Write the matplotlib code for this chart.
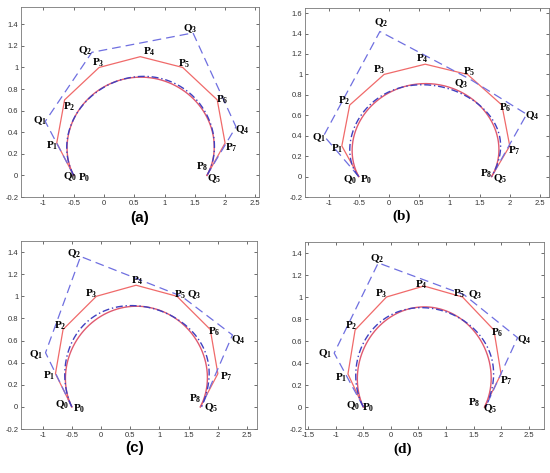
import numpy as np
import matplotlib
matplotlib.use('Agg')
import matplotlib.pyplot as plt
from matplotlib.ticker import FuncFormatter, MultipleLocator
from math import comb

plt.rcParams['mathtext.fontset'] = 'custom'
plt.rcParams['mathtext.rm'] = 'Liberation Serif'
plt.rcParams['mathtext.bf'] = 'Liberation Serif:bold'
plt.rcParams['font.family'] = 'Liberation Sans'

# ---- data: control points ----
P_x = [-0.5, -0.78, -0.65, -0.08, 0.6, 1.3, 1.87, 2.0, 1.7]
P_y = [0.0, 0.3, 0.7, 1.0, 1.1, 1.0, 0.7, 0.3, 0.0]

Qa_x = [-0.5, -0.97, -0.2, 1.47, 2.18, 1.7]
Qa_y = [0.0, 0.50, 1.14, 1.32, 0.45, 0.0]
Qb_x = [-0.5, -1.08, -0.15, 1.35, 2.28, 1.7]
Qb_y = [0.0, 0.40, 1.42, 0.95, 0.61, 0.0]
Qc_x = [-0.5, -0.95, -0.35, 1.38, 2.25, 1.72]
Qc_y = [0.0, 0.49, 1.36, 1.0, 0.65, 0.0]
Qd_x = [-0.5, -1.03, -0.23, 1.33, 2.3, 1.72]
Qd_y = [0.0, 0.49, 1.31, 1.02, 0.63, 0.0]

panel_names = ['(a)', '(b)', '(c)', '(d)']
Q_sets = [(Qa_x, Qa_y), (Qb_x, Qb_y), (Qc_x, Qc_y), (Qd_x, Qd_y)]

# ---- layout (pixels) ----
W, H = 550, 473
rects_px = [(21, 7, 259, 197), (305, 8, 549, 197), (21, 241, 257, 429), (305, 242, 544, 429)]
xlims = [(-1.37, 2.56), (-1.39, 2.65), (-1.37, 2.67), (-1.56, 2.78)]
ylims = [(-0.2, 1.56), (-0.2, 1.65), (-0.2, 1.5), (-0.2, 1.5)]
panel_label_pos = [(140, 218), (402, 216), (135, 448), (403, 449)]
panel_label_font = ['Liberation Sans', 'Liberation Serif', 'Liberation Sans', 'Liberation Serif']

# label offsets in pixels (dx, dy) for P0..P8 and Q0..Q5
P_off = [
    [(11, -2), (-5, -3), (5, -7), (-1, 5), (9, 5), (2, 4), (5, 0), (6, -5), (-5, 9)],
    [(7, -3), (-5, -3), (-5, 4), (-5, 5), (-3, 5), (2, 3), (3, -3), (5, -5), (-5, 3)],
    [(7, -2), (-6, -2), (-3, 4), (-5, 3), (1, 4), (3, 2), (4, -2), (8, -3), (-5, 8)],
    [(5, -1), (-7, -4), (-4, 4), (-5, 3), (-3, 1), (-3, 3), (3, -3), (5, -7), (-10, 4)],
]
Q_off = [
    [(-4, -1), (-5, 1), (-7, 2), (-3, 4), (6, -3), (7, -3)],
    [(-9, -3), (-5, -2), (1, 9), (-9, -4), (6, -1), (9, -2)],
    [(-10, 2), (-9, -2), (-6, 3), (13, 2), (6, -5), (10, -1)],
    [(-10, 1), (-9, -1), (-1, 4), (11, 0), (7, -2), (5, -2)],
]


def bezier(xs, ys, n=300):
    xs = np.asarray(xs, float)
    ys = np.asarray(ys, float)
    d = len(xs) - 1
    t = np.linspace(0, 1, n)
    B = np.array([comb(d, k) * t**k * (1 - t)**(d - k) for k in range(d + 1)])
    return B.T @ xs, B.T @ ys


RED = '#f06a6a'
BLUE = '#6f6fe0'
fig = plt.figure(figsize=(W / 100, H / 100), dpi=100)

for i in range(4):
    l, t, r, b = rects_px[i]
    ax = fig.add_axes([l / W, 1 - b / H, (r - l) / W, (b - t) / H])
    qx, qy = Q_sets[i]
    # control polygons
    ax.plot(P_x, P_y, color=RED, lw=0.9)
    ax.plot(qx, qy, color=BLUE, lw=0.9, dashes=(7, 4))
    # curves
    bx, by = bezier(P_x, P_y)
    ax.plot(bx, by, color='#e05a70', lw=1.0)
    cx, cy = bezier(qx, qy)
    ax.plot(cx, cy, color='#4040c0', lw=1.0, dashes=(5, 2, 1, 2))
    # labels
    for k in range(len(P_x)):
        ax.annotate(r'$\mathbf{P_{%d}}$' % k, (P_x[k], P_y[k]), xytext=P_off[i][k],
                    textcoords='offset pixels', ha='center', va='center', fontsize=8)
    for k in range(len(qx)):
        ax.annotate(r'$\mathbf{Q_{%d}}$' % k, (qx[k], qy[k]), xytext=Q_off[i][k],
                    textcoords='offset pixels', ha='center', va='center', fontsize=8)
    ax.set_xlim(*xlims[i])
    ax.set_ylim(*ylims[i])
    ax.xaxis.set_major_locator(MultipleLocator(0.5))
    ax.yaxis.set_major_locator(MultipleLocator(0.2))
    fmt = FuncFormatter(lambda v, p: ('%g' % round(v, 2)) if abs(v) > 1e-9 else '0')
    ax.xaxis.set_major_formatter(fmt)
    ax.yaxis.set_major_formatter(fmt)
    ax.tick_params(direction='in', length=2.5, width=0.5, labelsize=5.5, colors='#333333',
                   top=True, right=True, pad=2)
    for s in ax.spines.values():
        s.set_color('#777777')
        s.set_linewidth(0.6)
    px, py = panel_label_pos[i]
    fig.text(px / W, 1 - py / H, panel_names[i], ha='center', va='center', fontsize=11,
             fontweight='bold', family=panel_label_font[i])

fig.savefig('out.png', dpi=100)
